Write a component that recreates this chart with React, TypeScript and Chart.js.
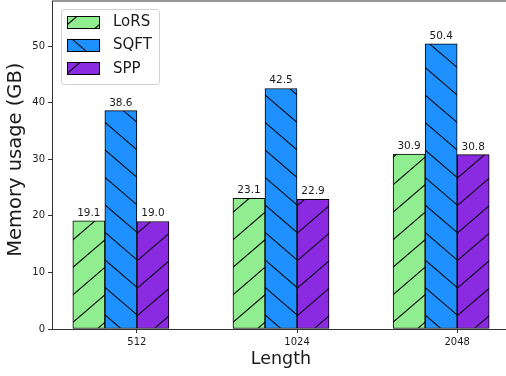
import React, { useEffect, useRef } from 'react';
import { Chart, registerables } from 'chart.js';

Chart.register(...registerables);

// ---- data ----
const categories = ['512', '1024', '2048'];
const seriesNames = ['LoRS', 'SQFT', 'SPP'];
const lorsValues = [19.1, 23.1, 30.9];
const sqftValues = [38.6, 42.5, 50.4];
const sppValues = [19.0, 22.9, 30.8];
const yTickValues = [0, 10, 20, 30, 40, 50];
const yAxisMax = 57.96;
const xAxisMin = -0.53;
const xAxisMax = 2.33;
const xTitle = 'Length';
const yTitle = 'Memory usage (GB)';

// ---- styles ----
const seriesColors = ['#90EE90', '#1E90FF', '#8A2BE2'];
const seriesHatches = ['/', '\\', '/'];
const seriesPhases = [0.0, 0.83, 0.77];
const BAR_W = 0.2;
const FONT = "'DejaVu Sans', sans-serif";
const AXIS_COLOR = '#333';
const TEXT_COLOR = '#1a1a1a';

function makeHatch(color: string, dir: string, phase: number): CanvasPattern | string {
  const Px = 32;
  const Py = 27.5;
  const W = 64;
  const H = 55;
  const c = document.createElement('canvas');
  c.width = W;
  c.height = H;
  const g = c.getContext('2d');
  if (!g) return color;
  g.fillStyle = color;
  g.fillRect(0, 0, W, H);
  g.strokeStyle = '#000';
  g.lineWidth = 1.05;
  g.beginPath();
  const s = dir === '/' ? -1 : 1;
  for (let n = -6; n <= 8; n++) {
    const y0 = -Py * 2;
    const y1 = H + Py * 2;
    const x0 = Px * (n + phase + (s * y0) / Py);
    const x1 = Px * (n + phase + (s * y1) / Py);
    g.moveTo(x0, y0);
    g.lineTo(x1, y1);
  }
  g.stroke();
  const p = g.createPattern(c, 'repeat');
  return p || color;
}

export default function App() {
  const ref = useRef<HTMLCanvasElement>(null);

  useEffect(() => {
    const canvas = ref.current;
    if (!canvas) return;
    const patterns = seriesColors.map((c, i) => makeHatch(c, seriesHatches[i], seriesPhases[i]));
    const valuesBySeries = [lorsValues, sqftValues, sppValues];

    const datasets = seriesNames.map((name, k) => ({
      label: name,
      data: categories.map((_, i) => ({ x: i + (k - 1.5) * BAR_W, y: valuesBySeries[k][i] })),
      backgroundColor: patterns[k] as any,
      borderColor: '#000',
      borderWidth: 1,
      borderSkipped: false as any,
      grouped: false,
      categoryPercentage: 1,
      barPercentage: 1,
    }));

    const framePlugin = {
      id: 'frameAndLabels',
      afterDatasetsDraw(chart: any) {
        const ctx = chart.ctx;
        const { left, right, top, bottom } = chart.chartArea;
        ctx.save();
        // top & right spines
        ctx.strokeStyle = AXIS_COLOR;
        ctx.lineWidth = 1;
        ctx.beginPath();
        ctx.moveTo(left, top);
        ctx.lineTo(right, top);
        ctx.lineTo(right, bottom);
        ctx.stroke();
        // value labels
        ctx.fillStyle = TEXT_COLOR;
        ctx.font = `10.5px ${FONT}`;
        ctx.textAlign = 'center';
        ctx.textBaseline = 'alphabetic';
        chart.data.datasets.forEach((ds: any, di: number) => {
          const meta = chart.getDatasetMeta(di);
          meta.data.forEach((el: any, i: number) => {
            const v = ds.data[i].y;
            ctx.fillText(v.toFixed(1), el.x, el.y - 5);
          });
        });
        // y axis title
        ctx.save();
        ctx.translate(15.75, (top + bottom) / 2 - 5.3);
        ctx.rotate(-Math.PI / 2);
        ctx.font = `19.5px ${FONT}`;
        ctx.textAlign = 'center';
        ctx.textBaseline = 'middle';
        ctx.fillText(yTitle, 0, 0);
        ctx.restore();
        ctx.restore();
      },
      afterDraw(chart: any) {
        const ctx = chart.ctx;
        const { left, top } = chart.chartArea;
        const bx = left + 9;
        const by = top + 8;
        const bw = 98;
        const bh = 75;
        const r = 3;
        ctx.save();
        ctx.beginPath();
        ctx.moveTo(bx + r, by + 0.5);
        ctx.arcTo(bx + bw + 0.5, by + 0.5, bx + bw + 0.5, by + bh + 0.5, r);
        ctx.arcTo(bx + bw + 0.5, by + bh + 0.5, bx + 0.5, by + bh + 0.5, r);
        ctx.arcTo(bx + 0.5, by + bh + 0.5, bx + 0.5, by + 0.5, r);
        ctx.arcTo(bx + 0.5, by + 0.5, bx + bw + 0.5, by + 0.5, r);
        ctx.closePath();
        ctx.fillStyle = 'rgba(255,255,255,0.8)';
        ctx.fill();
        ctx.strokeStyle = '#d0d0d0';
        ctx.lineWidth = 1;
        ctx.stroke();
        chart.data.datasets.forEach((ds: any, k: number) => {
          const cy = by + 12.7 + 23.3 * k;
          const hx = bx + 6;
          const hy = Math.round(cy - 6);
          ctx.fillStyle = ds.backgroundColor;
          ctx.fillRect(hx, hy, 32, 12);
          ctx.strokeStyle = '#000';
          ctx.lineWidth = 1;
          ctx.strokeRect(hx + 0.5, hy + 0.5, 32, 12);
          ctx.fillStyle = TEXT_COLOR;
          ctx.font = `15px ${FONT}`;
          ctx.textAlign = 'left';
          ctx.textBaseline = 'middle';
          ctx.fillText(ds.label, bx + 52, cy + 0.5);
        });
        ctx.restore();
      },
    };

    const chart = new Chart(canvas, {
      type: 'bar',
      data: { datasets: datasets as any },
      options: {
        responsive: false,
        animation: false,
        events: [],
        layout: { padding: { top: 1, right: 2, left: 0, bottom: 0 } },
        plugins: { legend: { display: false }, tooltip: { enabled: false } },
        scales: {
          x: {
            type: 'linear',
            min: xAxisMin,
            max: xAxisMax,
            offset: false,
            afterBuildTicks: (s: any) => {
              s.ticks = categories.map((_, i) => ({ value: i }));
            },
            afterFit: (s: any) => {
              s.height = 47;
              s.paddingLeft = 0;
              s.paddingRight = 0;
            },
            ticks: {
              callback: (v: any) => categories[Math.round(Number(v))] ?? '',
              font: { family: FONT, size: 10 },
              color: TEXT_COLOR,
              padding: 3,
              maxRotation: 0,
              autoSkip: false,
            },
            grid: {
              offset: false,
              drawOnChartArea: false,
              drawTicks: true,
              tickLength: 4,
              tickColor: AXIS_COLOR,
              tickWidth: 1,
            },
            border: { display: true, color: AXIS_COLOR, width: 1 },
            title: {
              display: true,
              text: xTitle,
              font: { family: FONT, size: 17.5, lineHeight: 1 },
              color: TEXT_COLOR,
              padding: { top: 0, bottom: 7.5 },
            },
          } as any,
          y: {
            type: 'linear',
            min: 0,
            max: yAxisMax,
            afterBuildTicks: (s: any) => {
              s.ticks = yTickValues.map((v) => ({ value: v }));
            },
            afterFit: (s: any) => {
              s.width = 52;
              s.paddingTop = 0;
              s.paddingBottom = 0;
            },
            ticks: {
              callback: (v: any) => String(v),
              font: { family: FONT, size: 10 },
              color: TEXT_COLOR,
              padding: 3,
            },
            grid: {
              drawOnChartArea: false,
              drawTicks: true,
              tickLength: 4,
              tickColor: AXIS_COLOR,
              tickWidth: 1,
            },
            border: { display: true, color: AXIS_COLOR, width: 1 },
            title: { display: false },
          } as any,
        },
      },
      plugins: [framePlugin],
    });

    return () => {
      chart.destroy();
    };
  }, []);

  return (
    <div style={{ position: 'absolute', left: 0, top: 0, width: 506, height: 376, overflow: 'hidden', background: '#fff' }}>
      <canvas ref={ref} width={512} height={376} style={{ display: 'block', width: 512, height: 376 }} />
    </div>
  );
}
